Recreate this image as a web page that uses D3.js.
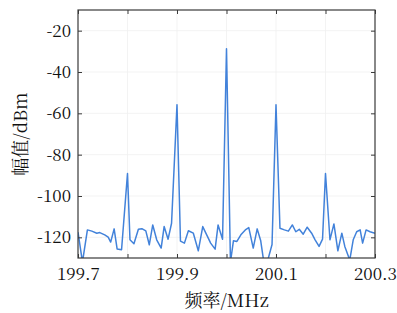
<!DOCTYPE html>
<html>
<head>
<meta charset="utf-8">
<script src="https://cdn.jsdelivr.net/npm/d3@7"></script>
<style>
  html, body { margin: 0; padding: 0; background: #fff; }
  svg { display: block; }
</style>
</head>
<body>
<svg id="chart" width="397" height="313"></svg>
<script>
// Data
const freqMHz = [
  199.700, 199.709, 199.719, 199.728, 199.738, 199.744, 199.754, 199.761, 199.766, 199.773, 199.779, 199.788,
  199.800, 199.805, 199.813, 199.822, 199.829, 199.837, 199.844, 199.851, 199.859, 199.868, 199.874, 199.882, 199.889,
  199.900, 199.907, 199.915, 199.923, 199.933, 199.943, 199.952, 199.960, 199.968, 199.977, 199.983, 199.992,
  200.000, 200.008, 200.014, 200.021, 200.029, 200.038, 200.045, 200.054, 200.062, 200.069, 200.076, 200.084, 200.092,
  200.100, 200.108, 200.117, 200.125, 200.133, 200.140, 200.147, 200.155, 200.163, 200.172, 200.179, 200.187, 200.194,
  200.200, 200.209, 200.217, 200.225, 200.233, 200.239, 200.249, 200.256, 200.263, 200.270, 200.275, 200.282, 200.290,
  200.300
];
const amplitudeDBm = [
  -117.5, -132, -116.4, -117, -118, -117.7, -118.8, -119.9, -122.3, -115.9, -125.6, -126,
  -89.1, -121.2, -123.1, -116.1, -115.8, -116.9, -123.6, -114, -121.2, -125.2, -114.8, -120.9, -113.2,
  -55.8, -121.8, -122.8, -116.8, -118, -126.5, -114.8, -118.8, -122.8, -125.7, -114, -120.9,
  -28.8, -132, -121.7, -122, -118.8, -116.4, -115.3, -125.2, -115.9, -121.5, -133, -130.5, -123.5,
  -55.8, -115.6, -116.4, -117, -114, -117.3, -116.1, -118.5, -115.1, -118, -121.2, -124.4, -120.9,
  -89.1, -121.2, -113.5, -126.5, -118, -124.4, -131, -121.2, -117.3, -116.4, -122.8, -116.4, -117.3,
  -118
];
const xTicks = [199.7, 199.8, 199.9, 200.0, 200.1, 200.2, 200.3];
const xTickLabels = [199.7, 199.9, 200.1, 200.3];
const yTicks = [-20, -40, -60, -80, -100, -120];
const xDomain = [199.7, 200.3];
const yDomain = [-130, -10];
const xTitle = "频率/MHz";
const yTitle = "幅值/dBm";

const W = 397, H = 313;
const m = { left: 78, right: 22, top: 10, bottom: 55 };
const svg = d3.select("#chart");
const x = d3.scaleLinear().domain(xDomain).range([m.left, W - m.right]);
const y = d3.scaleLinear().domain(yDomain).range([H - m.bottom, m.top]);
const font = "'Noto Serif CJK SC', 'Liberation Serif', serif";
const axisColor = "#3a3a3a";

// grid
const grid = svg.append("g");
grid.selectAll(".gx").data(xTicks.slice(1, -1)).join("line")
  .attr("x1", d => x(d)).attr("x2", d => x(d))
  .attr("y1", y.range()[1]).attr("y2", y.range()[0])
  .attr("stroke", "#f0f0f0").attr("stroke-width", 0.8);
grid.selectAll(".gy").data(yTicks).join("line")
  .attr("x1", x.range()[0]).attr("x2", x.range()[1])
  .attr("y1", d => y(d)).attr("y2", d => y(d))
  .attr("stroke", "#f0f0f0").attr("stroke-width", 0.8);

// clip
svg.append("clipPath").attr("id", "clip").append("rect")
  .attr("x", x.range()[0]).attr("y", y.range()[1])
  .attr("width", x.range()[1] - x.range()[0])
  .attr("height", y.range()[0] - y.range()[1]);

const pts = freqMHz.map((f, i) => [f, amplitudeDBm[i]]);
svg.append("path")
  .datum(pts)
  .attr("clip-path", "url(#clip)")
  .attr("fill", "none")
  .attr("stroke", "#4282da")
  .attr("stroke-width", 1.5)
  .attr("stroke-linejoin", "round")
  .attr("d", d3.line().x(d => x(d[0])).y(d => y(d[1])));

// axes (ticks inward)
const tl = 4;
const bottomAxis = d3.axisBottom(x).tickValues(xTicks).tickSize(-tl).tickPadding(10)
  .tickFormat(d => xTickLabels.some(v => Math.abs(v - d) < 1e-9) ? d3.format(".1f")(d) : "");
const topAxis = d3.axisTop(x).tickValues(xTicks).tickSize(-tl).tickFormat("");
const leftAxis = d3.axisLeft(y).tickValues(yTicks).tickSize(-tl).tickPadding(7)
  .tickFormat(d => String(d));
const rightAxis = d3.axisRight(y).tickValues(yTicks).tickSize(-tl).tickFormat("");

function style(g) {
  g.attr("font-family", font).attr("font-size", 17);
  g.select(".domain").remove();
  g.selectAll(".tick line").attr("stroke", axisColor).attr("stroke-width", 1);
  g.selectAll(".tick text").attr("fill", "#111");
}
svg.append("g").attr("transform", `translate(0,${y.range()[0]})`).call(bottomAxis).call(style);
svg.append("g").attr("transform", `translate(0,${y.range()[1]})`).call(topAxis).call(style);
svg.append("g").attr("transform", `translate(${x.range()[0]},0)`).call(leftAxis).call(style);
svg.append("g").attr("transform", `translate(${x.range()[1]},0)`).call(rightAxis).call(style);

// frame
svg.append("rect")
  .attr("x", x.range()[0]).attr("y", y.range()[1])
  .attr("width", x.range()[1] - x.range()[0])
  .attr("height", y.range()[0] - y.range()[1])
  .attr("fill", "none").attr("stroke", axisColor).attr("stroke-width", 1.2);

// titles
svg.append("text")
  .attr("x", (x.range()[0] + x.range()[1]) / 2)
  .attr("y", 307)
  .attr("text-anchor", "middle")
  .attr("font-family", font).attr("font-size", 18).attr("fill", "#111")
  .text(xTitle);
svg.append("text")
  .attr("transform", `translate(27,${(y.range()[0] + y.range()[1]) / 2}) rotate(-90)`)
  .attr("text-anchor", "middle")
  .attr("font-family", font).attr("font-size", 18).attr("fill", "#111")
  .text(yTitle);
</script>
</body>
</html>
